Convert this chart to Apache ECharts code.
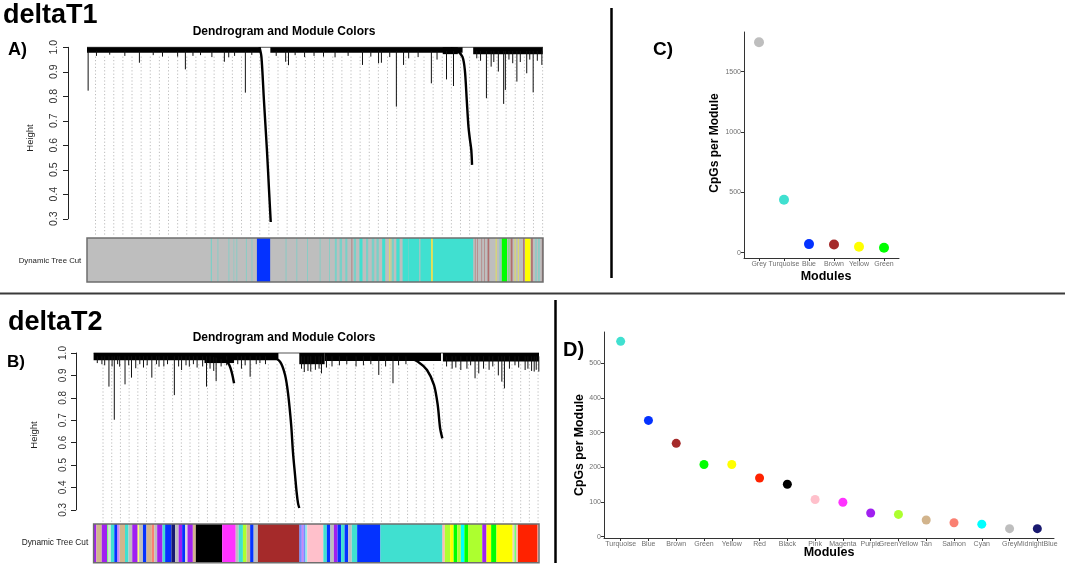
<!DOCTYPE html>
<html><head><meta charset="utf-8">
<script src="https://cdn.jsdelivr.net/npm/echarts@6/dist/echarts.min.js"></script>
<style>html,body{margin:0;padding:0;background:#fff}#c{width:1065px;height:566px}</style>
</head><body><div id="c"></div><script>
// ---------------- DATA ----------------
const LEAVES = 2410; // number of CpGs (leaves) in each dendrogram
const heightTicks = [0.3, 0.4, 0.5, 0.6, 0.7, 0.8, 0.9, 1.0];

const modulesC = ['Grey', 'Turquoise', 'Blue', 'Brown', 'Yellow', 'Green'];
const cpgsC = [1743, 438, 71, 68, 49, 41];
const countTicksC = [0, 500, 1000, 1500];

const modulesD = ['Turquoise', 'Blue', 'Brown', 'Green', 'Yellow', 'Red', 'Black', 'Pink', 'Magenta',
  'Purple', 'GreenYellow', 'Tan', 'Salmon', 'Cyan', 'Grey', 'MidnightBlue'];
const cpgsD = [563, 335, 269, 208, 208, 169, 151, 107, 99, 68, 64, 48, 40, 36, 23, 23];
const countTicksD = [0, 100, 200, 300, 400, 500];

// dendrogram deltaT1: dense clusters [startLeaf, endLeaf, bottomHeight]
const bandsA = [[0, 915, 0.978], [969, 1985, 0.978], [1880, 1960, 0.972], [2041, 2409, 0.972]];
// hanging branches [leaf, height]
const spikesA = [[6, 0.823], [277, 0.937], [399, 0.962], [479, 0.962], [520, 0.910], [726, 0.941], [749, 0.959],
  [837, 0.815], [871, 0.969], [1050, 0.941], [1065, 0.927], [1311, 0.959], [1456, 0.928], [1541, 0.935],
  [1556, 0.937], [1635, 0.758], [1673, 0.928], [1820, 0.853], [1900, 0.869], [1937, 0.842], [2111, 0.792],
  [2136, 0.921], [2174, 0.901], [2202, 0.769], [2211, 0.826], [2272, 0.860], [2324, 0.894], [2358, 0.816],
  [2404, 0.928],
  [50, 0.965], [120, 0.97], [200, 0.965], [350, 0.968], [560, 0.965], [600, 0.968], [660, 0.96], [780, 0.965],
  [1000, 0.965], [1100, 0.968], [1150, 0.96], [1200, 0.965], [1250, 0.962], [1380, 0.965], [1500, 0.962],
  [1600, 0.96], [1700, 0.955], [1750, 0.96], [1850, 0.95], [2060, 0.955], [2080, 0.945], [2150, 0.94],
  [2230, 0.95], [2250, 0.935], [2290, 0.94], [2340, 0.95], [2380, 0.945]];
// deep merging branches (blue module, turquoise module)
const branchA1 = [[912, 1.0], [922, 0.96], [935, 0.785], [951, 0.58], [962, 0.418], [971, 0.287]];
const branchA2 = [[1922, 0.996], [1956, 0.986], [1984, 0.962], [1997, 0.907], [2007, 0.785], [2016, 0.676],
  [2024, 0.622], [2031, 0.581], [2035, 0.52]];

// dendrogram deltaT2
const bandsB = [[0, 1000, 0.968], [600, 760, 0.955], [1113, 1250, 0.950], [1250, 1880, 0.964], [1890, 2410, 0.962]];
const spikesB = [[83, 0.850], [112, 0.702], [141, 0.939], [170, 0.860], [205, 0.890], [228, 0.932], [315, 0.890],
  [354, 0.939], [437, 0.812], [476, 0.924], [518, 0.939], [611, 0.850], [663, 0.875], [847, 0.894],
  [1175, 0.917], [1233, 0.909], [1543, 0.902], [1620, 0.865], [1987, 0.924], [2064, 0.887], [2084, 0.909],
  [2209, 0.872], [2223, 0.842], [2335, 0.924], [2384, 0.917], [2409, 0.917],
  [20, 0.955], [45, 0.95], [60, 0.945], [100, 0.94], [130, 0.95], [190, 0.945], [250, 0.95], [270, 0.935],
  [290, 0.945], [340, 0.95], [380, 0.94], [400, 0.95], [460, 0.94], [500, 0.945], [540, 0.95], [560, 0.935],
  [590, 0.94], [630, 0.93], [650, 0.92], [690, 0.94], [720, 0.945], [780, 0.95], [800, 0.93], [820, 0.945],
  [880, 0.95], [900, 0.955], [930, 0.95], [1125, 0.93], [1140, 0.915], [1160, 0.92], [1200, 0.925],
  [1220, 0.93], [1260, 0.935], [1290, 0.94], [1330, 0.945], [1370, 0.95], [1420, 0.94], [1460, 0.945],
  [1500, 0.95], [1580, 0.94], [1650, 0.945], [1690, 0.95], [1910, 0.94], [1940, 0.93], [1960, 0.935],
  [2020, 0.93], [2040, 0.945], [2110, 0.93], [2140, 0.925], [2160, 0.94], [2190, 0.9], [2250, 0.93],
  [2280, 0.945], [2300, 0.935], [2350, 0.93], [2370, 0.92], [2395, 0.925]];
const branchB0 = [[640, 0.99], [700, 0.975], [735, 0.945], [760, 0.865]];
const branchB1 = [[955, 0.99], [1009, 0.961], [1036, 0.902], [1052, 0.821], [1069, 0.679], [1079, 0.554],
  [1090, 0.455], [1099, 0.375], [1106, 0.33], [1113, 0.308]];
const branchB2 = [[1697, 0.984], [1755, 0.961], [1804, 0.924], [1842, 0.857], [1862, 0.768], [1875, 0.664],
  [1887, 0.619]];

// "Dynamic Tree Cut" module colour bars: [module, startLeaf, endLeaf]
const barA = [['grey', 0, 2410],
  ['turquoise', 654, 660], ['turquoise', 690, 694], ['turquoise', 748, 752], ['turquoise', 775, 778],
  ['turquoise', 790, 794], ['turquoise', 840, 844], ['turquoise', 870, 874], ['turquoise', 1050, 1054],
  ['turquoise', 1107, 1111], ['turquoise', 1164, 1168], ['turquoise', 1230, 1234], ['turquoise', 1280, 1284],
  ['turquoise', 1310, 1320], ['turquoise', 1335, 1348], ['turquoise', 1365, 1376], ['turquoise', 1410, 1422],
  ['turquoise', 1440, 1456], ['turquoise', 1475, 1486], ['turquoise', 1505, 1518], ['turquoise', 1530, 1542],
  ['turquoise', 1560, 1576], ['turquoise', 1610, 1622], ['turquoise', 1635, 1652], ['turquoise', 1668, 1700],
  ['turquoise', 1701, 1756], ['turquoise', 1762, 1818], ['turquoise', 1828, 2041], ['turquoise', 2180, 2186],
  ['turquoise', 2370, 2376], ['turquoise', 2385, 2392],
  ['blue', 898, 968],
  ['brown', 1398, 1402], ['brown', 2050, 2053], ['brown', 2062, 2065], ['brown', 2085, 2088], ['brown', 2100, 2103],
  ['brown', 2117, 2126], ['brown', 2239, 2249], ['brown', 2305, 2312], ['brown', 2347, 2356], ['brown', 2404, 2409],
  ['yellow', 1596, 1600], ['yellow', 1605, 1608], ['yellow', 1818, 1828], ['yellow', 2160, 2165],
  ['yellow', 2260, 2265], ['yellow', 2277, 2282], ['yellow', 2315, 2343],
  ['green', 2192, 2220], ['green', 2228, 2232]];

const barB = [['purple', 0, 15], ['tan', 15, 44], ['purple', 44, 73], ['green', 73, 80], ['grey', 80, 93],
  ['turquoise', 93, 112], ['blue', 112, 128], ['purple', 128, 141], ['tan', 141, 170], ['turquoise', 170, 189],
  ['grey', 189, 209], ['purple', 209, 238], ['yellow', 238, 246], ['grey', 246, 267], ['blue', 267, 286],
  ['tan', 286, 315], ['salmon', 315, 329], ['grey', 329, 344], ['purple', 344, 373], ['turquoise', 373, 387],
  ['blue', 387, 421], ['midnightblue', 421, 441], ['grey', 441, 460], ['purple', 460, 479], ['blue', 479, 495],
  ['grey', 495, 508], ['purple', 508, 537], ['tan', 537, 553],
  ['black', 553, 696], ['magenta', 696, 769],
  ['grey', 769, 785], ['turquoise', 785, 808], ['greenyellow', 808, 828], ['tan', 828, 847], ['blue', 847, 866],
  ['grey', 866, 889], ['brown', 889, 1113],
  ['blue', 1113, 1126], ['purple', 1126, 1136], ['blue', 1136, 1146], ['turquoise', 1146, 1156],
  ['pink', 1156, 1243],
  ['turquoise', 1243, 1262], ['blue', 1262, 1281], ['grey', 1281, 1300], ['purple', 1300, 1320],
  ['blue', 1320, 1339], ['turquoise', 1339, 1358], ['blue', 1358, 1378], ['grey', 1378, 1397],
  ['turquoise', 1397, 1426], ['blue', 1426, 1552], ['turquoise', 1552, 1887],
  ['salmon', 1887, 1900], ['greenyellow', 1900, 1929], ['yellow', 1929, 1948], ['green', 1948, 1968],
  ['greenyellow', 1968, 1987], ['cyan', 1987, 2006], ['green', 2006, 2026], ['greenyellow', 2026, 2103],
  ['purple', 2103, 2126], ['yellow', 2126, 2151], ['green', 2151, 2180], ['yellow', 2180, 2267],
  ['tan', 2267, 2277], ['green', 2277, 2287], ['salmon', 2287, 2296], ['red', 2296, 2402], ['salmon', 2402, 2410]];

// ---------------- STYLE / LAYOUT ----------------
const FONT = '"Liberation Sans", Arial, Helvetica, sans-serif';
const COLORS = {
  grey: '#BEBEBE', turquoise: '#40E0D0', blue: '#0432FF', brown: '#A52A2A', yellow: '#FFFF00',
  green: '#00FF00', red: '#FF2200', black: '#000000', pink: '#FFC0CB', magenta: '#FF33FF',
  purple: '#A020F0', greenyellow: '#ADFF2F', tan: '#D2B48C', salmon: '#FA8072', cyan: '#00FFFF',
  midnightblue: '#191970'
};
const L = {
  dendA: { left: 87, top: 47.3, width: 456, height: 171.5 },
  barA: { left: 87, top: 238, width: 456, height: 44 },
  dendB: { left: 93.6, top: 353, width: 445.4, height: 156.8 },
  barB: { left: 93.6, top: 524, width: 445.4, height: 38.7 },
  C: { left: 744, top: 32, width: 155, height: 226 },
  D: { left: 604, top: 332, width: 450, height: 206 }
};

const grids = ['dendA', 'barA', 'dendB', 'barB', 'C', 'D'].map(k => Object.assign({ outerBoundsMode: 'none', containLabel: false }, L[k]));

function hiddenX(gi) { return { gridIndex: gi, type: 'value', min: 0, max: LEAVES, show: false }; }
function hiddenY(gi) { return { gridIndex: gi, type: 'value', min: 0, max: 1, show: false }; }
function heightAxis(gi, offset, fs) {
  return {
    gridIndex: gi, type: 'value', min: 0.3, max: 1.0, offset: offset,
    axisLine: { show: true, onZero: false, lineStyle: { color: '#222', width: 1 } },
    axisTick: { show: true, length: 5, customValues: heightTicks, lineStyle: { color: '#222', width: 1 } },
    axisLabel: { customValues: heightTicks, rotate: 90, margin: 8, fontSize: fs, color: '#333', fontFamily: FONT,
      formatter: v => Number(v).toFixed(1) },
    splitLine: { show: false }
  };
}
function catAxis(gi, names) {
  const idx = names.map((_, i) => i);
  return {
    gridIndex: gi, type: 'value', min: -0.6, max: names.length - 1 + 0.6,
    axisLine: { show: true, onZero: false, lineStyle: { color: '#333', width: 1 } },
    axisTick: { show: true, length: 3, customValues: idx, lineStyle: { color: '#333' } },
    axisLabel: { customValues: idx, formatter: v => names[Math.round(v)], fontSize: 7, color: '#707070',
      margin: 3, fontFamily: FONT, hideOverlap: false },
    splitLine: { show: false }
  };
}
function countAxis(gi, ticks, vals) {
  const lo = Math.min(...vals), hi = Math.max(...vals), pad = (hi - lo) * 0.05;
  return {
    gridIndex: gi, type: 'value', min: lo - pad, max: hi + pad,
    axisLine: { show: true, onZero: false, lineStyle: { color: '#333', width: 1 } },
    axisTick: { show: true, length: 3, customValues: ticks, lineStyle: { color: '#333' } },
    axisLabel: { customValues: ticks, fontSize: 7, color: '#707070', margin: 3, fontFamily: FONT,
      formatter: v => String(Math.round(v)) },
    splitLine: { show: false }
  };
}

function dendroSeries(ai, bands, spikes, branches, guideN, gFrom, gTo, gTop, gBottom) {
  const out = [];
  const guides = [];
  for (let i = 0; i < guideN; i++) guides.push([gFrom + (gTo - gFrom) * i / (guideN - 1)]);
  out.push({
    type: 'custom', xAxisIndex: ai, yAxisIndex: ai, clip: false, silent: true, z: 1, data: guides,
    renderItem: (p, api) => {
      const a = api.coord([api.value(0), gTop]), b = api.coord([api.value(0), gBottom]);
      return { type: 'line', shape: { x1: a[0], y1: a[1], x2: b[0], y2: b[1] },
        style: { stroke: '#ababab', lineWidth: 0.8, lineDash: [1.2, 2.2] } };
    }
  });
  out.push({
    type: 'custom', xAxisIndex: ai, yAxisIndex: ai, clip: false, silent: true, z: 2, data: [[0]],
    renderItem: (p, api) => {
      const a = api.coord([0, 1.0]), b = api.coord([LEAVES, 1.0]);
      return { type: 'line', shape: { x1: a[0], y1: a[1], x2: b[0], y2: b[1] }, style: { stroke: '#555', lineWidth: 1 } };
    }
  });
  out.push({
    type: 'custom', xAxisIndex: ai, yAxisIndex: ai, clip: false, silent: true, z: 3, data: bands,
    renderItem: (p, api) => {
      const a = api.coord([api.value(0), 1.0]), b = api.coord([api.value(1), api.value(2)]);
      return { type: 'rect', shape: { x: a[0], y: a[1], width: b[0] - a[0], height: b[1] - a[1] }, style: { fill: '#000' } };
    }
  });
  out.push({
    type: 'custom', xAxisIndex: ai, yAxisIndex: ai, clip: false, silent: true, z: 3, data: spikes,
    renderItem: (p, api) => {
      const a = api.coord([api.value(0), 0.985]), b = api.coord([api.value(0), api.value(1)]);
      return { type: 'line', shape: { x1: a[0], y1: a[1], x2: b[0], y2: b[1] }, style: { stroke: '#111', lineWidth: 1 } };
    }
  });
  branches.forEach(br => out.push({
    type: 'line', xAxisIndex: ai, yAxisIndex: ai, data: br, symbol: 'none', clip: false, silent: true, z: 4,
    smooth: 0.3, lineStyle: { color: '#000', width: 2.4 }
  }));
  return out;
}
function barSeries(ai, segs) {
  return {
    type: 'custom', xAxisIndex: ai, yAxisIndex: ai, clip: false, silent: true,
    data: segs.map(s => [s[1], s[2]]),
    renderItem: (p, api) => {
      const a = api.coord([api.value(0), 1]), b = api.coord([api.value(1), 0]);
      const w = b[0] - a[0];
      return { type: 'rect', shape: { x: a[0], y: a[1], width: w, height: b[1] - a[1] },
        style: { fill: COLORS[segs[p.dataIndex][0]], opacity: w < 2.5 ? 0.55 : 1 } };
    }
  };
}
function scatter(ai, names, vals, size) {
  return {
    type: 'scatter', xAxisIndex: ai, yAxisIndex: ai, symbolSize: size, silent: true,
    data: vals.map((v, i) => ({ value: [i, v], itemStyle: { color: COLORS[names[i].toLowerCase()], opacity: 1 } }))
  };
}

function txt(x, y, s, size, opts) {
  return { type: 'text', x: x, y: y, silent: true,
    style: Object.assign({ text: s, fontSize: size, fontFamily: FONT, fill: '#000', textAlign: 'center',
      textVerticalAlign: 'middle' }, opts || {}) };
}
function rot(el) { el.rotation = Math.PI / 2; return el; }
function barBorder(k) {
  const g = L[k];
  return { type: 'rect', shape: { x: g.left, y: g.top, width: g.width, height: g.height }, silent: true, z: 100,
    style: { fill: 'none', stroke: '#6e6e6e', lineWidth: 1.5 } };
}

const graphic = [
  txt(3, 15.5, 'deltaT1', 27, { fontWeight: 'bold', textAlign: 'left' }),
  txt(8, 323, 'deltaT2', 27, { fontWeight: 'bold', textAlign: 'left' }),
  txt(284, 32, 'Dendrogram and Module Colors', 12, { fontWeight: 'bold' }),
  txt(284, 338, 'Dendrogram and Module Colors', 12, { fontWeight: 'bold' }),
  txt(8, 50.5, 'A)', 18, { fontWeight: 'bold', textAlign: 'left' }),
  txt(7, 362, 'B)', 17, { fontWeight: 'bold', textAlign: 'left' }),
  txt(653, 49.5, 'C)', 19, { fontWeight: 'bold', textAlign: 'left' }),
  txt(563, 350.5, 'D)', 20, { fontWeight: 'bold', textAlign: 'left' }),
  rot(txt(30, 138, 'Height', 9.5, { fill: '#222' })),
  rot(txt(34, 435, 'Height', 9.5, { fill: '#222' })),
  txt(50, 261, 'Dynamic Tree Cut', 7.8, { fill: '#222' }),
  txt(55, 543, 'Dynamic Tree Cut', 8.3, { fill: '#222' }),
  rot(txt(715, 143, 'CpGs per Module', 12, { fontWeight: 'bold' })),
  rot(txt(580, 445, 'CpGs per Module', 12.3, { fontWeight: 'bold' })),
  txt(826, 277, 'Modules', 12.5, { fontWeight: 'bold' }),
  txt(829, 553, 'Modules', 12.5, { fontWeight: 'bold' }),
  { type: 'line', silent: true, shape: { x1: 611.5, y1: 8, x2: 611.5, y2: 278 }, style: { stroke: '#000', lineWidth: 2.5 } },
  { type: 'line', silent: true, shape: { x1: 0, y1: 293.5, x2: 1065, y2: 293.5 }, style: { stroke: '#3a3a3a', lineWidth: 2 } },
  { type: 'line', silent: true, shape: { x1: 555.5, y1: 300, x2: 555.5, y2: 563 }, style: { stroke: '#000', lineWidth: 2.5 } },
  barBorder('barA'), barBorder('barB')
];

const option = {
  backgroundColor: '#fff',
  animation: false,
  grid: grids,
  xAxis: [hiddenX(0), hiddenX(1), hiddenX(2), hiddenX(3), catAxis(4, modulesC), catAxis(5, modulesD)],
  yAxis: [heightAxis(0, 19, 10.5), hiddenY(1), heightAxis(2, 17.6, 10), hiddenY(3),
    countAxis(4, countTicksC, cpgsC), countAxis(5, countTicksD, cpgsD)],
  series: [].concat(
    dendroSeries(0, bandsA, spikesA, [branchA1, branchA2], 50, 45, 2408, 0.962, 0.234),
    [barSeries(1, barA)],
    dendroSeries(2, bandsB, spikesB, [branchB0, branchB1, branchB2], 51, 51, 2405, 0.95, 0.247),
    [barSeries(3, barB)],
    [scatter(4, modulesC, cpgsC, 10), scatter(5, modulesD, cpgsD, 9)]
  ),
  graphic: graphic
};
const chart = echarts.init(document.getElementById('c'), null, { renderer: 'canvas' });
chart.setOption(option);
</script></body></html>
